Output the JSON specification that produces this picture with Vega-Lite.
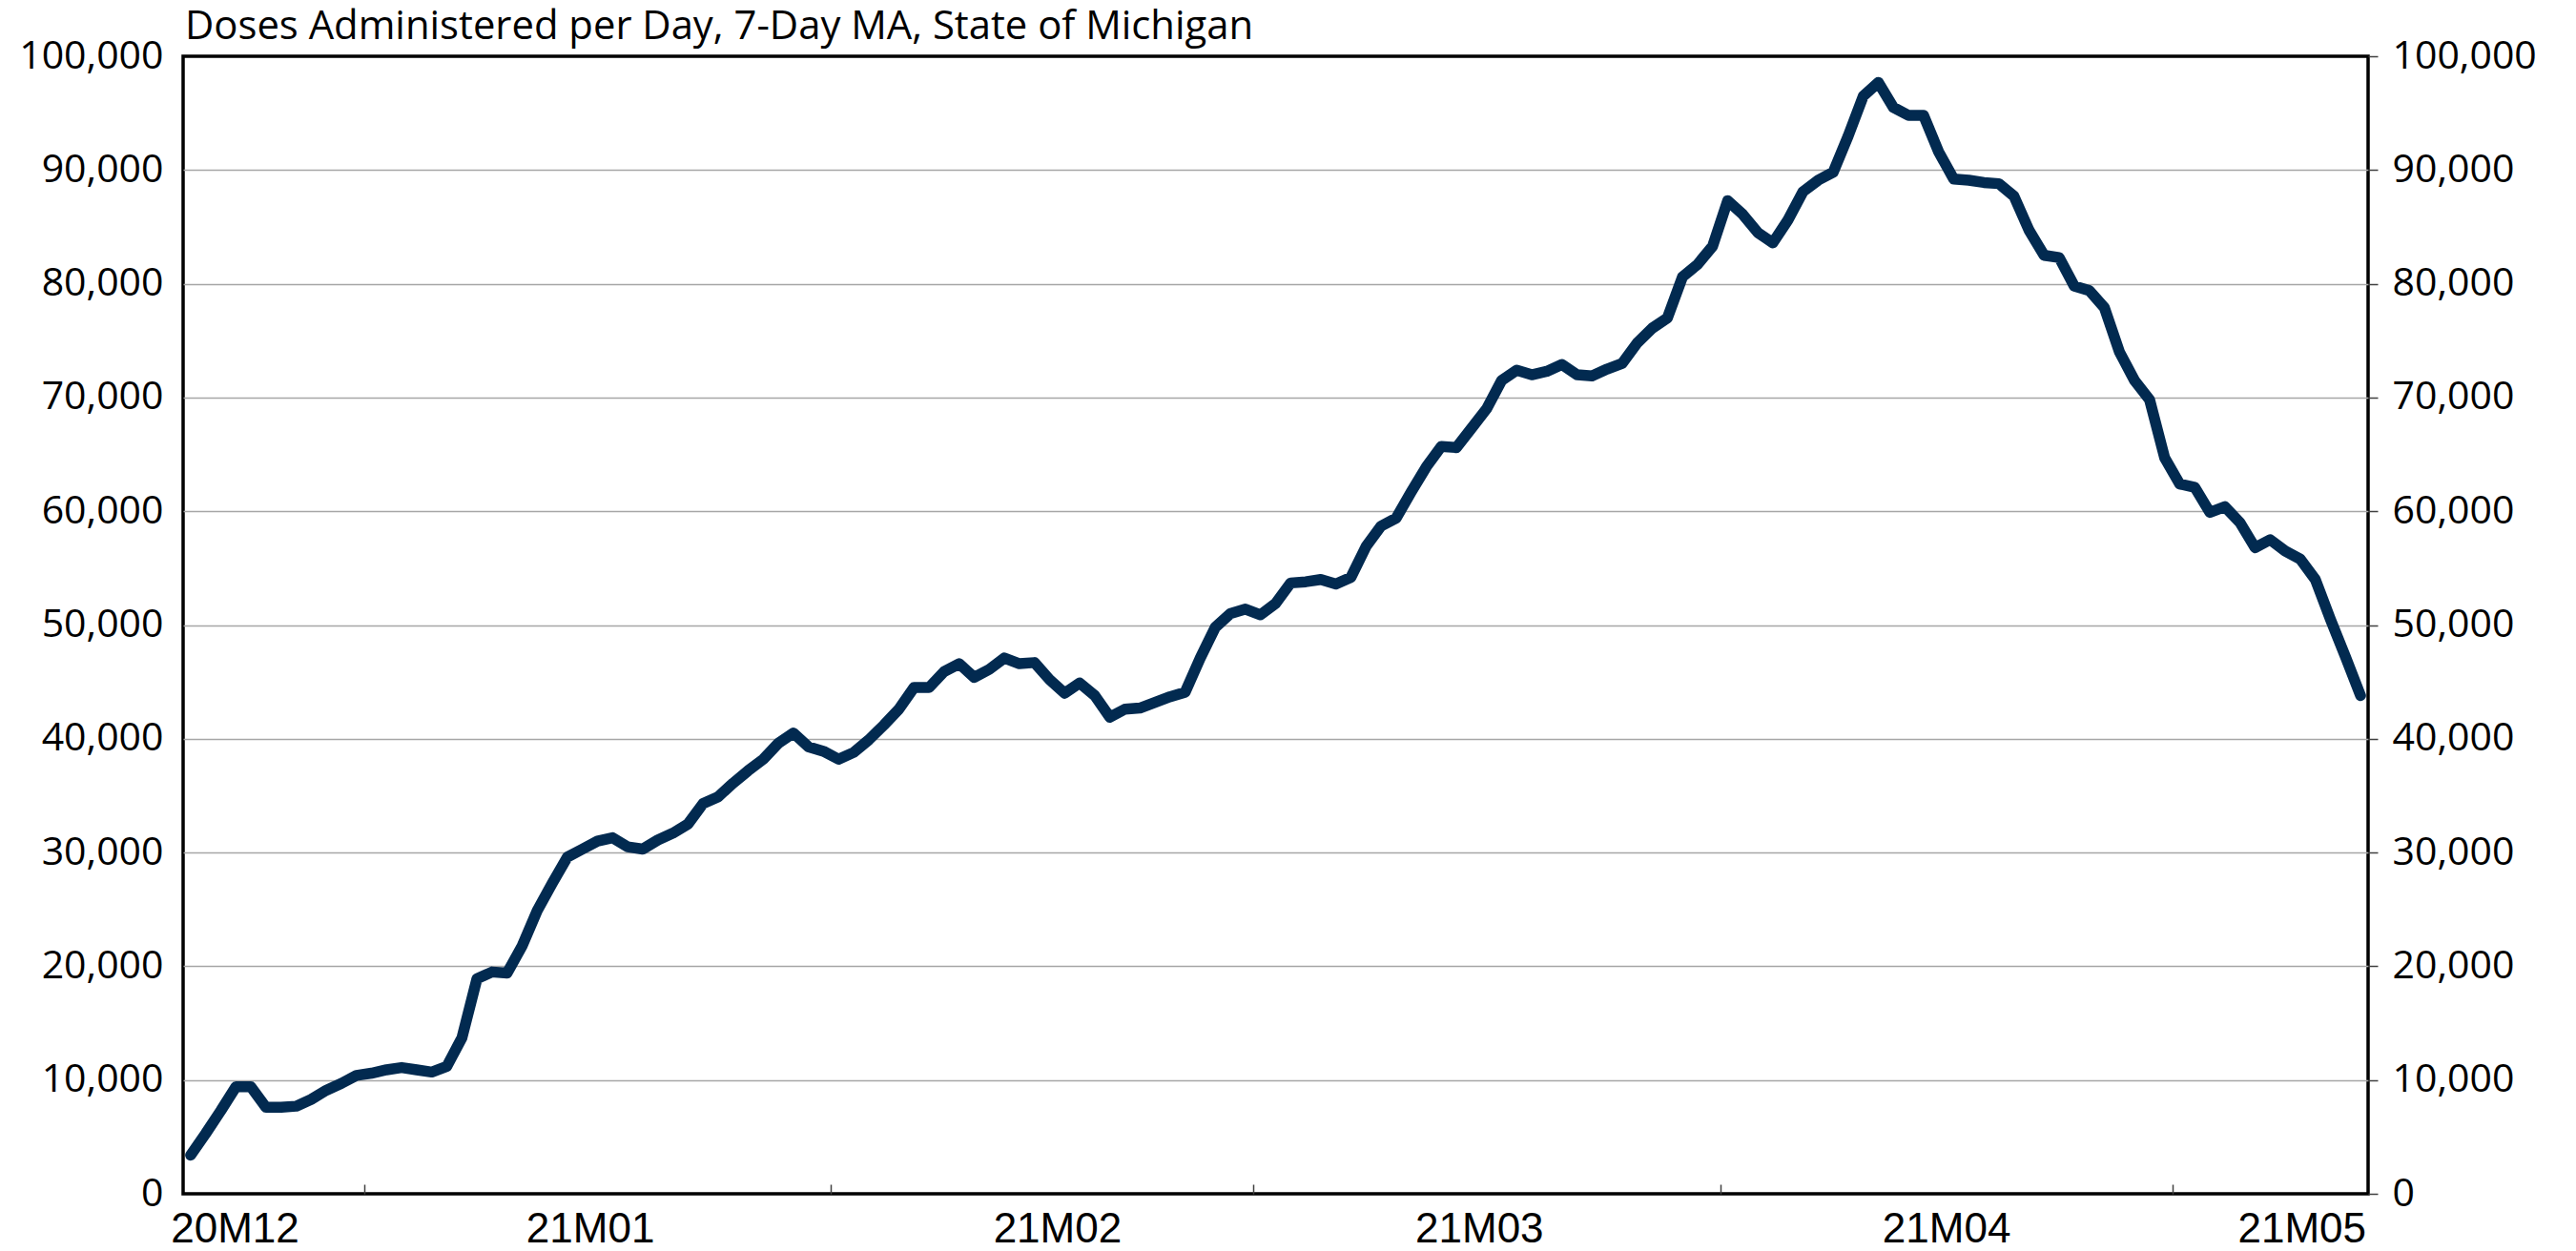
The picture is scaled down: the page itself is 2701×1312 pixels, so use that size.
{
  "$schema": "https://vega.github.io/schema/vega-lite/v6.json",
  "width": 2291,
  "height": 1193,
  "autosize": {"type": "none"},
  "padding": {"left": 192, "top": 59, "right": 218, "bottom": 60},
  "background": "white",
  "config": {
    "view": {"stroke": "black", "strokeWidth": 3.5},
    "axis": {"domain": false}
  },
  "title": {
    "text": "Doses Administered per Day, 7-Day MA, State of Michigan",
    "anchor": "start",
    "frame": "group",
    "font": "Open Sans",
    "fontSize": 41.8,
    "fontWeight": "normal",
    "color": "black",
    "baseline": "alphabetic",
    "offset": -45,
    "dx": 2
  },
  "data": {
    "values": [
      {"date": "2020-12-20", "doses": 3400},
      {"date": "2020-12-21", "doses": 5300},
      {"date": "2020-12-22", "doses": 7300},
      {"date": "2020-12-23", "doses": 9400},
      {"date": "2020-12-24", "doses": 9400},
      {"date": "2020-12-25", "doses": 7600},
      {"date": "2020-12-26", "doses": 7600},
      {"date": "2020-12-27", "doses": 7700},
      {"date": "2020-12-28", "doses": 8300},
      {"date": "2020-12-29", "doses": 9100},
      {"date": "2020-12-30", "doses": 9700},
      {"date": "2020-12-31", "doses": 10400},
      {"date": "2021-01-01", "doses": 10600},
      {"date": "2021-01-02", "doses": 10900},
      {"date": "2021-01-03", "doses": 11100},
      {"date": "2021-01-04", "doses": 10900},
      {"date": "2021-01-05", "doses": 10700},
      {"date": "2021-01-06", "doses": 11200},
      {"date": "2021-01-07", "doses": 13700},
      {"date": "2021-01-08", "doses": 18900},
      {"date": "2021-01-09", "doses": 19500},
      {"date": "2021-01-10", "doses": 19400},
      {"date": "2021-01-11", "doses": 21800},
      {"date": "2021-01-12", "doses": 24900},
      {"date": "2021-01-13", "doses": 27300},
      {"date": "2021-01-14", "doses": 29600},
      {"date": "2021-01-15", "doses": 30300},
      {"date": "2021-01-16", "doses": 31000},
      {"date": "2021-01-17", "doses": 31300},
      {"date": "2021-01-18", "doses": 30500},
      {"date": "2021-01-19", "doses": 30300},
      {"date": "2021-01-20", "doses": 31100},
      {"date": "2021-01-21", "doses": 31700},
      {"date": "2021-01-22", "doses": 32500},
      {"date": "2021-01-23", "doses": 34300},
      {"date": "2021-01-24", "doses": 34900},
      {"date": "2021-01-25", "doses": 36100},
      {"date": "2021-01-26", "doses": 37200},
      {"date": "2021-01-27", "doses": 38200},
      {"date": "2021-01-28", "doses": 39600},
      {"date": "2021-01-29", "doses": 40500},
      {"date": "2021-01-30", "doses": 39300},
      {"date": "2021-01-31", "doses": 38900},
      {"date": "2021-02-01", "doses": 38200},
      {"date": "2021-02-02", "doses": 38800},
      {"date": "2021-02-03", "doses": 39900},
      {"date": "2021-02-04", "doses": 41200},
      {"date": "2021-02-05", "doses": 42600},
      {"date": "2021-02-06", "doses": 44500},
      {"date": "2021-02-07", "doses": 44500},
      {"date": "2021-02-08", "doses": 45900},
      {"date": "2021-02-09", "doses": 46600},
      {"date": "2021-02-10", "doses": 45400},
      {"date": "2021-02-11", "doses": 46100},
      {"date": "2021-02-12", "doses": 47100},
      {"date": "2021-02-13", "doses": 46600},
      {"date": "2021-02-14", "doses": 46700},
      {"date": "2021-02-15", "doses": 45200},
      {"date": "2021-02-16", "doses": 44000},
      {"date": "2021-02-17", "doses": 44900},
      {"date": "2021-02-18", "doses": 43800},
      {"date": "2021-02-19", "doses": 41900},
      {"date": "2021-02-20", "doses": 42600},
      {"date": "2021-02-21", "doses": 42700},
      {"date": "2021-02-22", "doses": 43200},
      {"date": "2021-02-23", "doses": 43700},
      {"date": "2021-02-24", "doses": 44100},
      {"date": "2021-02-25", "doses": 47100},
      {"date": "2021-02-26", "doses": 49800},
      {"date": "2021-02-27", "doses": 51000},
      {"date": "2021-02-28", "doses": 51400},
      {"date": "2021-03-01", "doses": 50900},
      {"date": "2021-03-02", "doses": 51900},
      {"date": "2021-03-03", "doses": 53700},
      {"date": "2021-03-04", "doses": 53800},
      {"date": "2021-03-05", "doses": 54000},
      {"date": "2021-03-06", "doses": 53600},
      {"date": "2021-03-07", "doses": 54200},
      {"date": "2021-03-08", "doses": 56900},
      {"date": "2021-03-09", "doses": 58700},
      {"date": "2021-03-10", "doses": 59400},
      {"date": "2021-03-11", "doses": 61700},
      {"date": "2021-03-12", "doses": 63900},
      {"date": "2021-03-13", "doses": 65700},
      {"date": "2021-03-14", "doses": 65600},
      {"date": "2021-03-15", "doses": 67300},
      {"date": "2021-03-16", "doses": 69000},
      {"date": "2021-03-17", "doses": 71500},
      {"date": "2021-03-18", "doses": 72400},
      {"date": "2021-03-19", "doses": 72000},
      {"date": "2021-03-20", "doses": 72300},
      {"date": "2021-03-21", "doses": 72900},
      {"date": "2021-03-22", "doses": 72000},
      {"date": "2021-03-23", "doses": 71900},
      {"date": "2021-03-24", "doses": 72500},
      {"date": "2021-03-25", "doses": 73000},
      {"date": "2021-03-26", "doses": 74800},
      {"date": "2021-03-27", "doses": 76100},
      {"date": "2021-03-28", "doses": 77000},
      {"date": "2021-03-29", "doses": 80600},
      {"date": "2021-03-30", "doses": 81700},
      {"date": "2021-03-31", "doses": 83300},
      {"date": "2021-04-01", "doses": 87300},
      {"date": "2021-04-02", "doses": 86100},
      {"date": "2021-04-03", "doses": 84500},
      {"date": "2021-04-04", "doses": 83600},
      {"date": "2021-04-05", "doses": 85600},
      {"date": "2021-04-06", "doses": 88100},
      {"date": "2021-04-07", "doses": 89100},
      {"date": "2021-04-08", "doses": 89800},
      {"date": "2021-04-09", "doses": 93000},
      {"date": "2021-04-10", "doses": 96500},
      {"date": "2021-04-11", "doses": 97700},
      {"date": "2021-04-12", "doses": 95500},
      {"date": "2021-04-13", "doses": 94800},
      {"date": "2021-04-14", "doses": 94800},
      {"date": "2021-04-15", "doses": 91600},
      {"date": "2021-04-16", "doses": 89200},
      {"date": "2021-04-17", "doses": 89100},
      {"date": "2021-04-18", "doses": 88900},
      {"date": "2021-04-19", "doses": 88800},
      {"date": "2021-04-20", "doses": 87700},
      {"date": "2021-04-21", "doses": 84700},
      {"date": "2021-04-22", "doses": 82500},
      {"date": "2021-04-23", "doses": 82300},
      {"date": "2021-04-24", "doses": 79800},
      {"date": "2021-04-25", "doses": 79400},
      {"date": "2021-04-26", "doses": 77900},
      {"date": "2021-04-27", "doses": 74000},
      {"date": "2021-04-28", "doses": 71500},
      {"date": "2021-04-29", "doses": 69800},
      {"date": "2021-04-30", "doses": 64700},
      {"date": "2021-05-01", "doses": 62400},
      {"date": "2021-05-02", "doses": 62100},
      {"date": "2021-05-03", "doses": 59900},
      {"date": "2021-05-04", "doses": 60400},
      {"date": "2021-05-05", "doses": 59000},
      {"date": "2021-05-06", "doses": 56800},
      {"date": "2021-05-07", "doses": 57500},
      {"date": "2021-05-08", "doses": 56500},
      {"date": "2021-05-09", "doses": 55800},
      {"date": "2021-05-10", "doses": 54000},
      {"date": "2021-05-11", "doses": 50500},
      {"date": "2021-05-12", "doses": 47200},
      {"date": "2021-05-13", "doses": 43800}
    ]
  },
  "encoding": {
    "x": {
      "field": "date",
      "type": "temporal",
      "timeUnit": "utcyearmonthdate",
      "bandPosition": 0.5,
      "scale": {
        "type": "utc",
        "domain": [
          {"year": 2020, "month": 12, "date": 20, "utc": true},
          {"year": 2021, "month": 5, "date": 14, "utc": true}
        ]
      },
      "axis": {
        "title": null,
        "grid": false,
        "values": [
          {"year": 2020, "month": 12, "date": 23, "hours": 10, "utc": true},
          {"year": 2021, "month": 1, "date": 1, "utc": true},
          {"year": 2021, "month": 1, "date": 16, "utc": true},
          {"year": 2021, "month": 2, "date": 1, "utc": true},
          {"year": 2021, "month": 2, "date": 16, "utc": true},
          {"year": 2021, "month": 3, "date": 1, "utc": true},
          {"year": 2021, "month": 3, "date": 16, "utc": true},
          {"year": 2021, "month": 4, "date": 1, "utc": true},
          {"year": 2021, "month": 4, "date": 16, "utc": true},
          {"year": 2021, "month": 5, "date": 1, "utc": true},
          {"year": 2021, "month": 5, "date": 9, "hours": 14, "utc": true}
        ],
        "labelExpr": "utcdate(datum.value) == 1 && utchours(datum.value) == 0 ? '' : utcFormat(datum.value, '%yM%m')",
        "labelOverlap": false,
        "labelBound": false,
        "labelFlush": false,
        "labelAngle": 0,
        "labelAlign": "center",
        "labelBaseline": "top",
        "labelFont": "Liberation Sans",
        "labelFontSize": 44,
        "labelColor": "black",
        "labelPadding": 25,
        "ticks": true,
        "tickSize": -10,
        "tickWidth": 1.5,
        "tickColor": "#404040",
        "tickOpacity": {"condition": {"test": "utcdate(datum.value) == 1 && utchours(datum.value) == 0", "value": 1}, "value": 0}
      }
    }
  },
  "layer": [
    {
      "mark": {"type": "line", "color": "#022a50", "strokeWidth": 11.5, "strokeJoin": "round", "strokeCap": "round"},
      "encoding": {
        "y": {
          "field": "doses",
          "type": "quantitative",
          "scale": {"domain": [0, 100000], "nice": false, "zero": true},
          "axis": {
            "orient": "left",
            "title": null,
            "values": [0, 10000, 20000, 30000, 40000, 50000, 60000, 70000, 80000, 90000, 100000],
            "format": ",.0f",
            "grid": true,
            "gridColor": "#a6a6a6",
            "gridWidth": 1.7,
            "gridOpacity": {"condition": {"test": "datum.value == 0 || datum.value == 100000", "value": 0}, "value": 1},
            "ticks": false,
            "labelPadding": 21,
            "labelFont": "Open Sans",
            "labelFontSize": 41,
            "labelColor": "black",
            "labelBaseline": "middle",
            "labelOverlap": false,
            "labelBound": false,
            "labelFlush": false
          }
        }
      }
    },
    {
      "mark": {"type": "line", "opacity": 0},
      "encoding": {
        "y": {
          "field": "doses",
          "type": "quantitative",
          "axis": {
            "orient": "right",
            "title": null,
            "values": [0, 10000, 20000, 30000, 40000, 50000, 60000, 70000, 80000, 90000, 100000],
            "format": ",.0f",
            "grid": false,
            "ticks": true,
            "tickSize": 10,
            "tickWidth": 1.5,
            "tickColor": "#404040",
            "labelPadding": 15,
            "labelFont": "Open Sans",
            "labelFontSize": 41,
            "labelColor": "black",
            "labelBaseline": "middle",
            "labelOverlap": false,
            "labelBound": false,
            "labelFlush": false
          }
        }
      }
    }
  ],
  "resolve": {"axis": {"y": "independent"}}
}
